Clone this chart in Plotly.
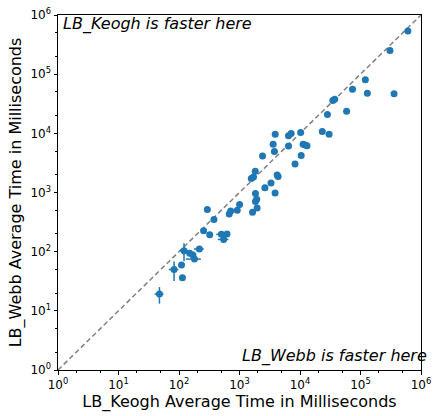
import plotly.graph_objects as go

# LB_Keogh (x) and LB_Webb (y) average times in milliseconds
keogh_ms = [47.5, 82.8, 114, 110, 121, 150, 170, 180, 217, 255, 322, 294, 378, 502, 621, 547,
            676, 714, 918, 1004, 1642, 1836, 1926, 1836, 1954, 2630, 3318, 3875, 1566, 1706,
            1822, 2404, 4190, 4348, 3598, 3777, 3890, 6458, 6458, 7140, 8278, 10450, 11250,
            12130, 13060, 10260, 23350, 30270, 28390, 34830, 37500, 58900, 73800, 129700,
            120300, 358800, 307000, 606600]
webb_ms = [19.2, 49.9, 36.2, 59.4, 104, 93.6, 87.7, 75, 111, 225, 194, 518, 349, 196, 198, 161,
           432, 485, 499, 625, 463, 966, 768, 702, 545, 1200, 1442, 977, 1730, 1820,
           2297, 4120, 1968, 1857, 6517, 4909, 9690, 6080, 9146, 9960, 3020, 4235, 6570,
           6320, 6150, 10360, 10770, 9620, 20850, 36060, 37840, 23550, 55800, 47750,
           80100, 46450, 251400, 538500]
keogh_err = [8, 15, 0, 0, 20, 0, 0, 50, 40, 0, 0, 0, 0, 90, 0, 110,
             0, 0, 0, 0, 0, 0, 0, 0, 0, 0, 0, 0, 0, 0,
             0, 0, 0, 0, 0, 0, 0, 0, 0, 0, 0, 0, 0,
             0, 0, 0, 0, 0, 0, 0, 0, 0, 0, 0,
             0, 0, 0, 0]
webb_err = [6, 18, 0, 0, 35, 0, 0, 0, 0, 0, 0, 0, 0, 0, 0, 0,
            0, 0, 0, 0, 0, 0, 0, 0, 0, 0, 0, 0, 0, 0,
            0, 0, 0, 0, 0, 0, 0, 0, 0, 0, 0, 0, 0,
            0, 0, 0, 0, 0, 0, 0, 0, 0, 0, 0,
            0, 0, 0, 0]
diag = [1, 1e6]
tick_vals = [1, 10, 100, 1e3, 1e4, 1e5, 1e6]
tick_text = ["10<sup>%d</sup>" % i for i in range(7)]

BLUE = "#1f77b4"
FONT = "DejaVu Sans"

fig = go.Figure()
fig.add_trace(go.Scatter(x=diag, y=diag, mode="lines",
                         line=dict(color="gray", width=1.5, dash="5px,3px"),
                         hoverinfo="skip", showlegend=False))
fig.add_trace(go.Scatter(
    x=keogh_ms, y=webb_ms, mode="markers",
    marker=dict(color=BLUE, size=7),
    error_x=dict(type="data", array=keogh_err, color=BLUE, thickness=1.5, width=0),
    error_y=dict(type="data", array=webb_err, color=BLUE, thickness=1.5, width=0),
    showlegend=False))

axis_common = dict(type="log", range=[0, 6], tickvals=tick_vals, ticktext=tick_text,
                   showgrid=False, zeroline=False, showline=True, linecolor="black",
                   linewidth=1, mirror=True, ticks="outside", ticklen=3.5, tickwidth=0.8,
                   tickcolor="black", tickfont=dict(family=FONT, size=12, color="black"),
                   ticklabeloverflow="allow",
                   minor=dict(ticks="outside", ticklen=2, tickwidth=0.6, tickcolor="black",
                              showgrid=False))

fig.update_xaxes(**axis_common,
                 title=dict(text="LB_Keogh Average Time in Milliseconds",
                            font=dict(family=FONT, size=16, color="black"), standoff=4))
fig.update_yaxes(**axis_common,
                 title=dict(text="LB_Webb Average Time in Milliseconds",
                            font=dict(family=FONT, size=16, color="black"), standoff=4))

fig.add_annotation(x=0.012, y=1.0, xref="paper", yref="paper", xanchor="left", yanchor="top",
                   xshift=-1, yshift=3,
                   text="<i>LB_Keogh is faster here</i>", showarrow=False,
                   font=dict(family=FONT, size=16, color="black"))
fig.add_annotation(x=1.0, y=0.005, xref="paper", yref="paper", xanchor="right", yanchor="bottom",
                   xshift=8,
                   text="<i>LB_Webb is faster here</i>", showarrow=False,
                   font=dict(family=FONT, size=16, color="black"))

fig.update_layout(width=435, height=416, margin=dict(l=58, r=4, t=15, b=46),
                  plot_bgcolor="white", paper_bgcolor="white",
                  font=dict(family=FONT, color="black"))

fig.write_html("out.html", config={"displayModeBar": False},
               post_script="document.body.style.margin='0';document.body.style.overflow='hidden';")
